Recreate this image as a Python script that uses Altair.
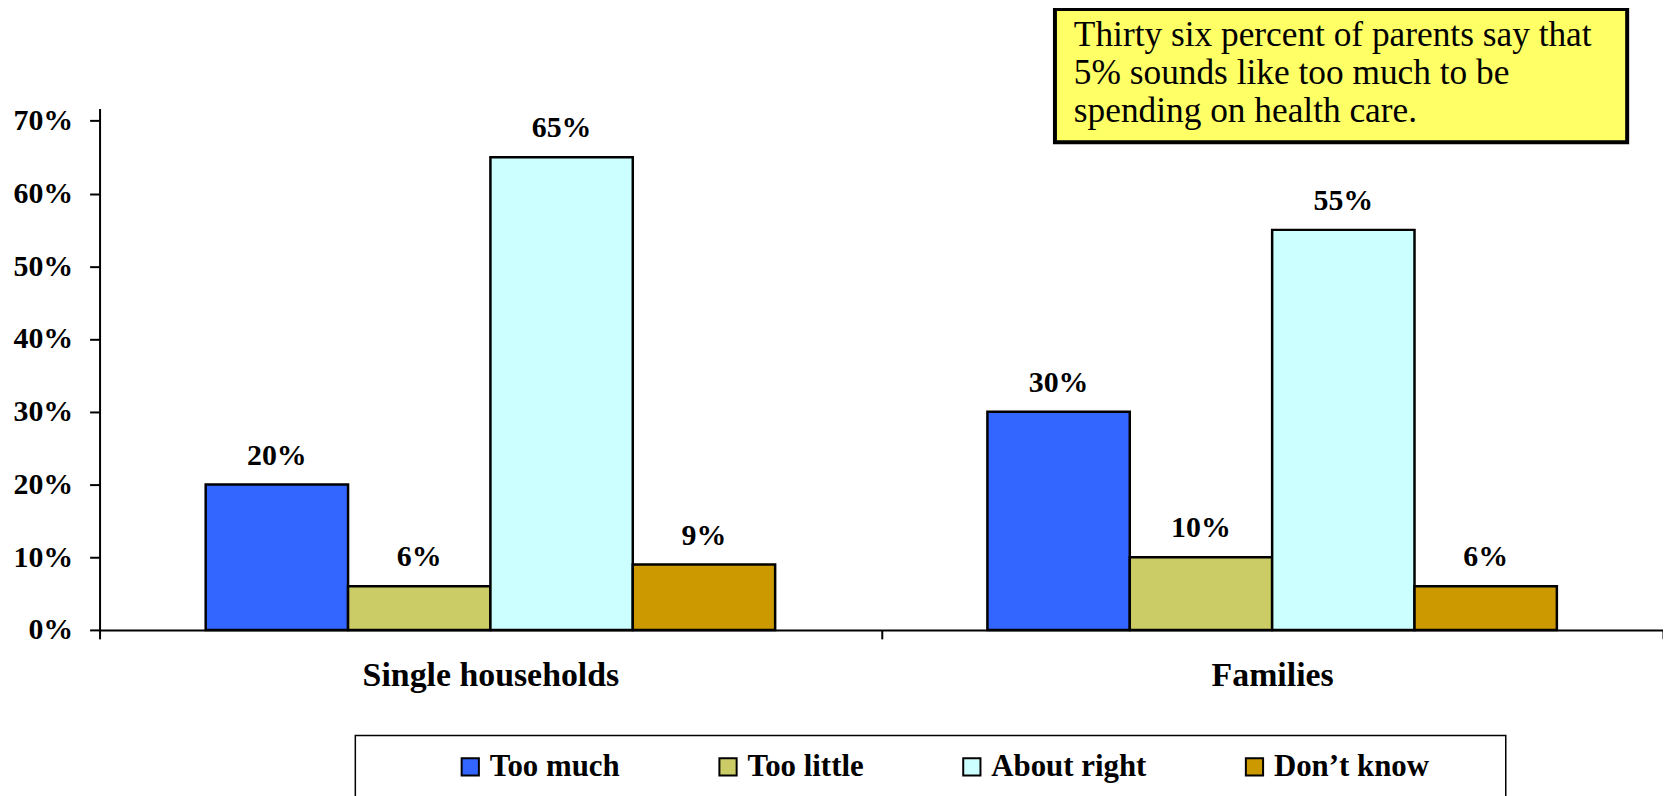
import altair as alt
import pandas as pd

# ---- data ----
groups = ["Single households", "Families"]
series = ["Too much", "Too little", "About right", "Don’t know"]
colors = ["#3366FF", "#CCCC66", "#CCFFFF", "#CC9900"]
single_vals = [0.20, 0.06, 0.65, 0.09]
family_vals = [0.30, 0.10, 0.55, 0.06]
y_ticks = [0.0, 0.1, 0.2, 0.3, 0.4, 0.5, 0.6, 0.7]
note_lines = [
    "Thirty six percent of parents say that",
    "5% sounds like too much to be",
    "spending on health care.",
]

rows = []
for g, vals in zip(groups, [single_vals, family_vals]):
    for s, v in zip(series, vals):
        rows.append({"group": g, "series": s, "value": v})
df = pd.DataFrame(rows)

FONT = "Liberation Serif"
W, H = 1571, 524

base = alt.Chart(df).encode(
    x=alt.X(
        "group:N",
        sort=groups,
        title=None,
        scale=alt.Scale(paddingInner=0, paddingOuter=0),
        axis=alt.Axis(
            labelAngle=0,
            labelFont=FONT,
            labelFontSize=34,
            labelFontWeight="bold",
            labelColor="black",
            labelBaseline="alphabetic",
            labelPadding=47,
            labelLimit=0,
            tickBand="extent",
            tickSize=9,
            tickWidth=2,
            tickColor="black",
            domainColor="black",
            domainWidth=2,
            grid=False,
        ),
    ),
    xOffset=alt.XOffset(
        "series:N",
        sort=series,
        scale=alt.Scale(paddingInner=0, paddingOuter=0.7455),
    ),
    y=alt.Y(
        "value:Q",
        title=None,
        scale=alt.Scale(domain=[0, 0.717], nice=False, zero=True),
        axis=alt.Axis(
            values=y_ticks,
            format=".0%",
            labelFont=FONT,
            labelFontSize=30,
            labelFontWeight="bold",
            labelColor="black",
            labelPadding=17,
            tickSize=10,
            tickWidth=2,
            tickColor="black",
            domainColor="black",
            domainWidth=2,
            grid=False,
        ),
    ),
)

bars = base.mark_bar(stroke="black", strokeWidth=2.5).encode(
    color=alt.Color(
        "series:N",
        sort=series,
        scale=alt.Scale(domain=series, range=colors),
        legend=alt.Legend(
            title=None,
            orient="none",
            legendX=357,
            legendY=646,
            direction="horizontal",
            columns=4,
            symbolType="square",
            symbolSize=300,
            symbolStrokeColor="black",
            symbolStrokeWidth=2,
            symbolOpacity=1,
            labelFont=FONT,
            labelFontSize=31,
            labelFontWeight="bold",
            labelColor="black",
            labelOffset=4,
            labelLimit=0,
            columnPadding=93,
            padding=0,
        ),
    )
)

labels = base.mark_text(
    baseline="alphabetic",
    dy=-20,
    font=FONT,
    fontSize=30,
    fontWeight="bold",
    color="black",
).encode(text=alt.Text("value:Q", format=".0%"))

one = pd.DataFrame({"k": [0]})

legend_box = alt.Chart(one).mark_rect(
    fill="white", fillOpacity=0, stroke="black", strokeWidth=1.5
).encode(x=alt.value(257), x2=alt.value(1413), y=alt.value(630), y2=alt.value(720))

note_box = alt.Chart(one).mark_rect(
    fill="#FFFF66", stroke="black", strokeWidth=4
).encode(x=alt.value(960), x2=alt.value(1535), y=alt.value(-100), y2=alt.value(34))

note_layers = []
for i, line in enumerate(note_lines):
    note_layers.append(
        alt.Chart(one)
        .mark_text(
            text=line,
            align="left",
            baseline="alphabetic",
            font=FONT,
            fontSize=35.5,
            color="black",
        )
        .encode(x=alt.value(979), y=alt.value(-63 + 38.3 * i))
    )

chart = (
    alt.layer(bars, labels, legend_box, note_box, *note_layers)
    .properties(
        width=W,
        height=H,
        padding={"left": 92, "top": 99, "right": 0, "bottom": 165},
        autosize=alt.AutoSizeParams(type="none"),
        background="white",
    )
    .configure_view(stroke=None)
)

chart.save("out.html", embed_options={"renderer": "svg", "actions": False})
